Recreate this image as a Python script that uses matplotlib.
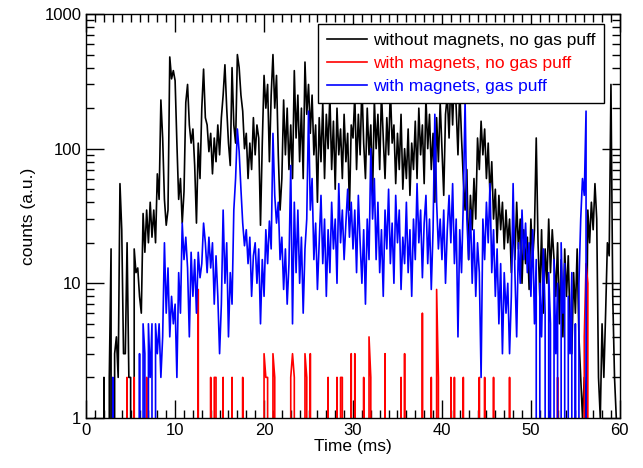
import numpy as np
import matplotlib.pyplot as plt
from matplotlib.ticker import MultipleLocator, LogLocator, FixedLocator, FixedFormatter, NullFormatter

plt.rcParams['font.family'] = ['Liberation Sans', 'DejaVu Sans']

# sampling step of the counters (ms)
t_step = 0.2

# without magnets, no gas puff (one row = 1 ms)
black = [
    0, 0, 0, 0, 0,
    1, 0, 0, 0, 0,
    2, 0, 0, 2, 18,
    0, 3, 4, 2, 55,
    25, 3, 3, 20, 2,
    2, 0, 18, 12, 13,
    8, 6, 33, 17, 35,
    20, 40, 22, 35, 20,
    65, 42, 230, 120, 42,
    27, 35, 480, 330, 380,
    320, 110, 42, 60, 28,
    48, 220, 300, 150, 110,
    140, 75, 28, 110, 60,
    200, 390, 170, 150, 95,
    130, 65, 120, 80, 150,
    90, 170, 250, 420, 200,
    110, 75, 400, 150, 110,
    500, 400, 250, 190, 100,
    130, 60, 110, 70, 170,
    90, 150, 120, 27, 110,
    350, 200, 300, 80, 250,
    500, 200, 350, 90, 35,
    60, 230, 90, 200, 70,
    150, 60, 380, 120, 250,
    80, 200, 60, 440, 180,
    300, 130, 250, 90, 150,
    40, 170, 80, 220, 60,
    180, 100, 250, 70, 160,
    50, 200, 90, 140, 60,
    180, 80, 130, 35, 150,
    120, 250, 70, 180, 90,
    300, 110, 60, 200, 90,
    150, 45, 230, 100, 180,
    70, 260, 120, 60, 170,
    90, 280, 110, 150, 55,
    130, 70, 180, 50, 100,
    60, 140, 45, 110, 70,
    160, 60, 200, 90, 150,
    55, 240, 100, 180, 70,
    130, 40, 170, 80, 220,
    100, 45, 180, 250, 120,
    350, 150, 400, 200, 90,
    280, 120, 60, 35, 70,
    15, 45, 25, 60, 30,
    120, 70, 160, 90, 140,
    60, 110, 45, 80, 30,
    50, 20, 45, 25, 40,
    18, 35, 20, 30, 12,
    28, 15, 40, 18, 30,
    10, 25, 14, 22, 9,
    30, 15, 25, 120, 20,
    8, 25, 6, 18, 10,
    30, 12, 25, 15, 8,
    20, 5, 15, 4, 18,
    8, 16, 5, 3, 12,
    6, 18, 4, 2, 1,
    2, 1, 35, 20, 40,
    25, 55, 30, 2, 1,
    5, 2, 6, 20, 16,
    300, 8, 2, 1, 0,
]

# with magnets, no gas puff
red = [
    0, 0, 0, 0, 0,
    0, 0, 0, 0, 0,
    0, 0, 0, 0, 0,
    0, 0, 0, 0, 0,
    0, 0, 0, 2, 0,
    0, 0, 2, 0, 0,
    0, 0, 0, 0, 2,
    0, 0, 0, 0, 0,
    0, 0, 0, 0, 0,
    0, 0, 0, 0, 0,
    0, 0, 0, 0, 0,
    0, 0, 0, 0, 0,
    0, 0, 0, 9, 0,
    0, 0, 0, 0, 0,
    2, 0, 2, 2, 0,
    0, 0, 2, 0, 0,
    0, 0, 2, 0, 0,
    0, 0, 0, 2, 0,
    0, 0, 0, 0, 0,
    0, 0, 0, 0, 0,
    3, 2, 2, 0, 0,
    3, 2, 0, 0, 0,
    0, 0, 0, 0, 0,
    2, 3, 2, 0, 0,
    0, 0, 0, 3, 2,
    0, 3, 0, 0, 0,
    0, 0, 0, 0, 0,
    0, 2, 0, 0, 0,
    0, 2, 0, 2, 2,
    0, 0, 0, 0, 3,
    0, 3, 0, 0, 0,
    0, 2, 0, 0, 4,
    2, 0, 0, 0, 0,
    0, 0, 0, 3, 0,
    0, 0, 0, 0, 0,
    0, 0, 2, 0, 3,
    0, 0, 0, 0, 0,
    0, 0, 0, 0, 6,
    0, 0, 0, 0, 2,
    0, 0, 9, 2, 0,
    0, 0, 0, 0, 0,
    2, 0, 2, 0, 0,
    0, 0, 2, 0, 0,
    0, 0, 0, 0, 0,
    0, 2, 0, 0, 2,
    0, 0, 0, 0, 2,
    0, 0, 0, 0, 0,
    0, 0, 0, 2, 0,
    0, 0, 0, 0, 0,
    0, 0, 0, 0, 0,
    0, 0, 0, 0, 0,
    0, 0, 0, 0, 0,
    0, 0, 0, 0, 0,
    2, 0, 0, 0, 0,
    0, 0, 0, 0, 0,
    0, 0, 0, 0, 0,
    4, 14, 10, 0, 0,
    0, 0, 0, 0, 0,
    0, 0, 0, 0, 0,
    0, 0, 0, 0, 0,
]

# with magnets, gas puff
blue = [
    0, 0, 0, 0, 0,
    0, 0, 0, 0, 0,
    0, 0, 0, 0, 0,
    2, 0, 0, 0, 0,
    0, 0, 0, 0, 0,
    0, 0, 0, 0, 0,
    3, 0, 5, 3, 0,
    5, 2, 5, 0, 5,
    3, 5, 2, 4, 20,
    6, 13, 4, 8, 5,
    7, 2, 12, 6, 28,
    15, 22, 13, 4, 17,
    8, 15, 6, 17, 11,
    14, 28, 20, 12, 22,
    13, 20, 7, 16, 8,
    3, 7, 35, 10, 20,
    4, 12, 7, 35, 60,
    140, 95, 50, 28, 19,
    25, 14, 22, 8, 16,
    20, 10, 18, 5, 15,
    8, 25, 14, 29, 18,
    130, 45, 28, 40, 15,
    22, 9, 18, 7, 14,
    75, 5, 40, 12, 35,
    10, 22, 6, 18, 30,
    190, 35, 60, 15, 28,
    9, 20, 45, 14, 30,
    8, 25, 12, 40, 18,
    30, 10, 55, 20, 35,
    15, 28, 50, 22, 40,
    18, 35, 12, 45, 20,
    10, 25, 7, 30, 15,
    100, 30, 60, 15, 40,
    12, 25, 8, 35, 18,
    50, 14, 28, 10, 45,
    20, 35, 9, 22, 14,
    40, 12, 25, 8, 30,
    15, 55, 20, 35, 11,
    28, 45, 14, 30, 9,
    25, 180, 40, 18, 30,
    15, 35, 10, 25, 45,
    20, 55, 14, 30, 4,
    25, 12, 40, 230, 30,
    15, 35, 10, 25, 8,
    20, 12, 2, 30, 15,
    40, 20, 55, 12, 25,
    8, 18, 5, 14, 3,
    12, 6, 10, 3, 8,
    55, 12, 4, 20, 10,
    35, 15, 28, 12, 20,
    8, 25, 5, 15, 0,
    10, 4, 18, 6, 0,
    12, 5, 0, 15, 3,
    10, 0, 20, 6, 14,
    0, 8, 3, 12, 0,
    5, 0, 10, 30, 60,
    45, 190, 0, 0, 0,
    0, 0, 0, 0, 0,
    0, 0, 0, 0, 0,
    0, 0, 0, 0, 0,
]

labels = ["without magnets, no gas puff", "with magnets, no gas puff", "with magnets, gas puff"]
colors = ["black", "#ff0000", "#0000ff"]

time = np.arange(len(black)) * t_step

fig = plt.figure(figsize=(6.43, 4.68), dpi=100)
ax = fig.add_axes([0.134, 0.107, 0.830, 0.863])

for data, lab, col in zip([black, red, blue], labels, colors):
    ax.plot(time, data, color=col, lw=1.2, label=lab)

ax.set_yscale('log', nonpositive='clip')
ax.set_xlim(0, 60)
ax.set_ylim(1, 1000)

ax.xaxis.set_major_locator(MultipleLocator(10))
ax.xaxis.set_minor_locator(MultipleLocator(1))
ax.yaxis.set_major_locator(FixedLocator([1, 10, 100, 1000]))
ax.yaxis.set_major_formatter(FixedFormatter(["1", "10", "100", "1000"]))
ax.yaxis.set_minor_locator(LogLocator(base=10, subs=np.arange(2, 10)))
ax.yaxis.set_minor_formatter(NullFormatter())

ax.tick_params(which='both', direction='in', top=True, right=True, width=1.0, labelsize=12)
ax.tick_params(which='major', length=13)
ax.tick_params(which='minor', length=6)
for sp in ax.spines.values():
    sp.set_linewidth(1.0)

ax.set_xlabel("Time (ms)", fontsize=12.5, labelpad=1)
ax.set_ylabel("counts (a.u.)", fontsize=12.5, labelpad=6)

leg = ax.legend(loc='upper right', bbox_to_anchor=(0.970, 0.975), borderaxespad=0,
                fontsize=12.5, frameon=True, fancybox=False, framealpha=1,
                edgecolor='black', handlelength=2.3, handletextpad=0.35,
                labelspacing=0.45, borderpad=0.5)
leg.get_frame().set_linewidth(1.0)
for txt, col in zip(leg.get_texts(), colors):
    txt.set_color(col)

fig.savefig("out.png", dpi=100)
